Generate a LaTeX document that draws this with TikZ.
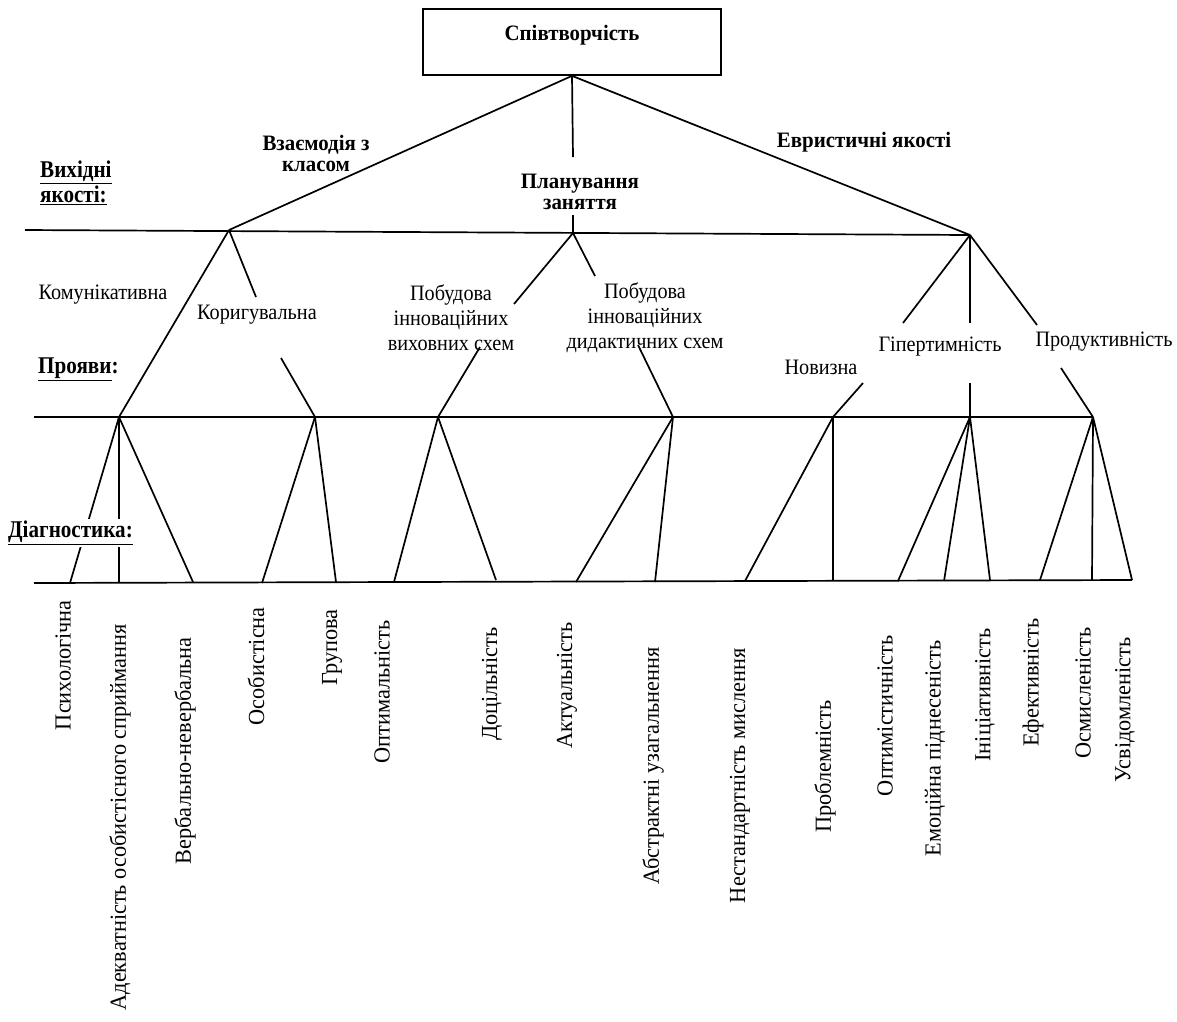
\documentclass[tikz,border=0pt]{standalone}
\usepackage{fontspec}
\setmainfont{Liberation Serif}
\newfontfamily\nfont[FakeStretch=0.92]{Liberation Serif}
\newfontfamily\bfont[FakeStretch=0.95]{Liberation Serif}
\newfontfamily\rfont[FakeStretch=0.97]{Liberation Serif}
\newfontfamily\sfont[FakeStretch=0.88]{Liberation Serif}
\tikzset{
  ln/.style={line width=1.7pt},
  lbl/.style={font=\nfont\fontsize{22}{25}\selectfont, align=center, inner sep=0pt},
  blbl/.style={font=\bfont\bfseries\fontsize{22}{21}\selectfont, align=center, inner sep=0pt},
  side/.style={font=\sfont\bfseries\fontsize{24}{26}\selectfont, align=left, anchor=west, inner sep=0pt},
  vt/.style={rotate=90, anchor=east, inner sep=0pt, font=\rfont\fontsize{23}{23}\selectfont},
  topbox/.style={draw, line width=1.7pt, minimum width=298pt, minimum height=66pt, inner sep=0pt},
}
\begin{document}
\begin{tikzpicture}[x=1pt,y=-1pt]
\useasboundingbox (0,0) rectangle (1177,1021);

% top box
\node[topbox] (top) at (572,42) {};
\node[blbl] (toptext) at (572,35) {Співтворчість};

% junctions
\coordinate (jL) at (229,230);
\coordinate (jM) at (573,233);
\coordinate (jR) at (970,235);
\coordinate (wl) at (25,230);

\coordinate (J1) at (119,417);
\coordinate (J2) at (315,417);
\coordinate (J3) at (438,417);
\coordinate (J4) at (673,417);
\coordinate (J5) at (833,417);
\coordinate (J6) at (970,417);
\coordinate (J7) at (1093,417);
\coordinate (pl) at (34,417);

\coordinate (bl) at (34,583);
\coordinate (br) at (1132,580);

% upper lines
\draw[ln] (wl) -- (jR);
\draw[ln] (top.south) -- (jL);
\draw[ln] (top.south) -- (jR);
\coordinate (pv1) at (573,157);
\coordinate (pv2) at (573,215);
\draw[ln] (top.south) -- (pv1);
\draw[ln] (pv2) -- (jM);

% middle lines
\coordinate (a1) at (256,297);
\coordinate (a2) at (281,358);
\coordinate (b1) at (514,304);
\coordinate (b2) at (480,347);
\coordinate (c1) at (595,276);
\coordinate (c2) at (638,345);
\coordinate (d1) at (903,323);
\coordinate (d2) at (970,323);
\coordinate (d3) at (1037,325);
\coordinate (e1) at (863,383);
\coordinate (e2) at (970,383);
\coordinate (e3) at (1061,368);

\draw[ln] (jL) -- (J1);
\draw[ln] (jL) -- (a1);
\draw[ln] (a2) -- (J2);
\draw[ln] (jM) -- (b1);
\draw[ln] (b2) -- (J3);
\draw[ln] (jM) -- (c1);
\draw[ln] (c2) -- (J4);
\draw[ln] (jR) -- (d1);
\draw[ln] (jR) -- (d2);
\draw[ln] (jR) -- (d3);
\draw[ln] (e1) -- (J5);
\draw[ln] (e2) -- (J6);
\draw[ln] (e3) -- (J7);

\draw[ln] (pl) -- (J7);
\draw[ln] (bl) -- (br);

% lower fans
\foreach \j/\x/\y in {J1/70/583, J1/119/583, J1/193/582,
                      J2/262/583, J2/336/582,
                      J3/394/582, J3/496/580,
                      J4/576/582, J4/655/582,
                      J5/745/581, J5/833/581,
                      J6/898/581, J6/944/581, J6/990/580,
                      J7/1040/580, J7/1092/580, J7/1132/580}
  \draw[ln] (\j) -- (\x,\y);

% upper labels
\node[blbl] (vz) at (316,153) {Взаємодія з\\класом};
\node[blbl] (pz) at (580,192) {Планування\\заняття};
\node[blbl] (ev) at (864,142) {Евристичні якості};

\node[side] (vykh) at (40,183) {\underline{Вихідні}\\[-1pt]\underline{якості:}};
\node[side] (proy) at (38,369) {\underline{Прояви}:};
\node[side, fill=white, inner sep=2pt] (diag) at (6,533) {\underline{Діагностика:}};

% middle labels
\node[lbl] (kom) at (103,295) {Комунікативна};
\node[lbl] (kor) at (257,315) {Коригувальна};
\node[lbl] (pbv) at (451,318) {Побудова\\інноваційних\\виховних схем};
\node[lbl] (pbd) at (645,318) {Побудова\\інноваційних\\дидактичних схем};
\node[lbl] (nov) at (821,367) {Новизна};
\node[lbl] (gip) at (940,347) {Гіпертимність};
\node[lbl] (prod) at (1104,342) {Продуктивність};

% bottom vertical labels
\node[vt] (r1) at (63,600) {Психологічна};
\node[vt] (r2) at (120,624) {Адекватність особистісного сприймання};
\node[vt] (r3) at (185,637) {Вербально-невербальна};
\node[vt] (r4) at (256,607) {Особистісна};
\node[vt] (r5) at (332,609) {Групова};
\node[vt] (r6) at (382,620) {Оптимальність};
\node[vt] (r7) at (492,627) {Доцільність};
\node[vt] (r8) at (567,622) {Актуальність};
\node[vt] (r9) at (653,647) {Абстрактні узагальнення};
\node[vt] (r10) at (740,648) {Нестандартність мислення};
\node[vt] (r11) at (825,700) {Проблемність};
\node[vt] (r12) at (885,635) {Оптимістичність};
\node[vt] (r13) at (935,640) {Емоційна піднесеність};
\node[vt] (r14) at (985,628) {Ініціативність};
\node[vt] (r15) at (1033,618) {Ефективність};
\node[vt] (r16) at (1083,627) {Осмисленість};
\node[vt] (r17) at (1125,637) {Усвідомленість};
\end{tikzpicture}
\end{document}
